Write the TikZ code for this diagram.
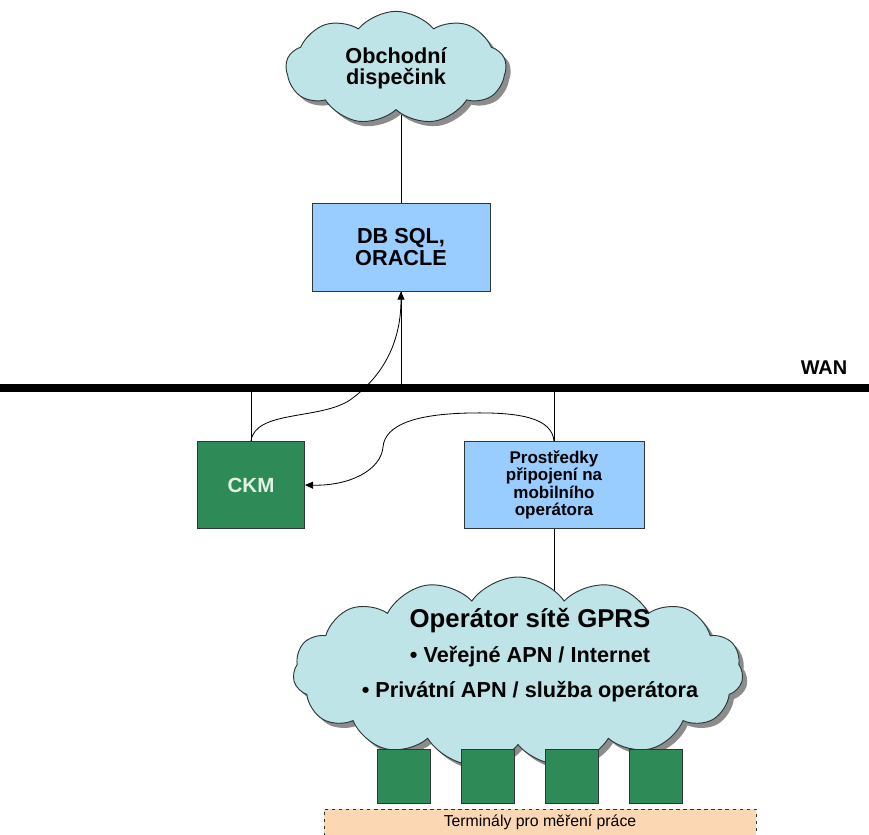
\documentclass[tikz,border=0pt]{standalone}
\usepackage{fontspec}
\setmainfont{Liberation Sans}
\usetikzlibrary{arrows.meta}
\usetikzlibrary{shapes.symbols}
\usetikzlibrary{shadows}
\usetikzlibrary{backgrounds}
\definecolor{cloudblue}{RGB}{190,228,232}
\definecolor{boxblue}{RGB}{153,204,255}
\definecolor{termgreen}{RGB}{46,139,87}
\definecolor{peach}{RGB}{252,215,180}
\definecolor{edgegray}{RGB}{45,55,55}
\definecolor{ckmtext}{RGB}{225,242,228}
\tikzset{netcloud/.style={cloud, cloud puffs=11, cloud puff arc=110, aspect=2,
  draw=edgegray, line width=0.8pt, fill=cloudblue, inner sep=0pt,
  drop shadow={shadow xshift=4pt, shadow yshift=-4pt, fill=black!45, opacity=1}}}
\tikzset{bluebox/.style={rectangle, draw=edgegray, line width=0.8pt, fill=boxblue, align=center, inner sep=2pt}}
\tikzset{greenbox/.style={rectangle, draw=edgegray, line width=0.8pt, fill=termgreen}}
\tikzset{link/.style={draw=black, line width=0.7pt}}

\begin{document}
\begin{tikzpicture}[x=0.03cm, y=-0.03cm, >={Triangle[length=7pt,width=6pt]}]
  \clip (0,0) rectangle (869,834);

  \node [netcloud, cloud puffs=9, cloud puff arc=100, minimum width=6.6cm, minimum height=3.4cm, align=center,
    font=\bfseries\fontsize{18.5}{18}\selectfont] (obch) at (396,68) {Obchodní\\dispečink};
  \node [bluebox, minimum width=5.34cm, minimum height=2.64cm,
    font=\bfseries\fontsize{18.5}{19.5}\selectfont] (db) at (401,247) {DB SQL,\\ORACLE};

  \coordinate (wanL) at (0,388);
  \coordinate (wanR) at (869,388);
  \draw [line width=6pt] (wanL) -- (wanR);
  \node [font=\bfseries\fontsize{17}{18}\selectfont] (wan) at (824,368) {WAN};

  \node [greenbox, minimum width=3.21cm, minimum height=2.61cm, text=ckmtext,
    font=\bfseries\fontsize{17.5}{20}\selectfont] (ckm) at (251,485) {CKM};
  \node [bluebox, minimum width=5.4cm, minimum height=2.61cm,
    font=\bfseries\fontsize{14.5}{15}\selectfont] (prost) at (554,485) {Prostředky\\připojení na\\mobilního\\operátora};

  \node [netcloud, cloud puffs=15, minimum width=13.5cm, minimum height=5.7cm] (gprs) at (518,672) {};
  \node [align=center, font=\bfseries\fontsize{18.5}{30}\selectfont] (gprstxt) at (530,655)
    {{\fontsize{22}{30}\selectfont Operátor sítě GPRS}\\• Veřejné APN / Internet\\• Privátní APN / služba operátora};

  \foreach \i in {1,...,4}
    \node [greenbox, minimum width=1.59cm, minimum height=1.62cm] (term\i) at (319.5+84*\i,776) {};

  \node [draw=edgegray, dashed, fill=peach, minimum width=12.96cm, minimum height=0.78cm,
    font=\fontsize{13.5}{15}\selectfont] (strip) at (540,822) {Terminály pro měření práce};

  \begin{scope}[on background layer]
    \draw [link] (db.north) -- (db.north |- obch.center);
    \draw [link] (db.south) -- (db.south |- wanL);
    \draw [link] (ckm.north) -- (ckm.north |- wanL);
    \draw [link] (prost.north) -- (prost.north |- wanL);
    \draw [link] (prost.south) -- (prost.south |- gprs.center);
  \end{scope}

  \draw [link, ->] (ckm.north) .. controls (255,410) and (320,420) .. (350,400)
    .. controls (385,375) and (401,340) .. (db.south);
  \draw [link, ->] (prost.north) .. controls (552,418) and (520,412) .. (470,413)
    .. controls (415,414) and (385,425) .. (383,447)
    .. controls (381,470) and (350,486) .. (ckm.east);
\end{tikzpicture}
\end{document}
